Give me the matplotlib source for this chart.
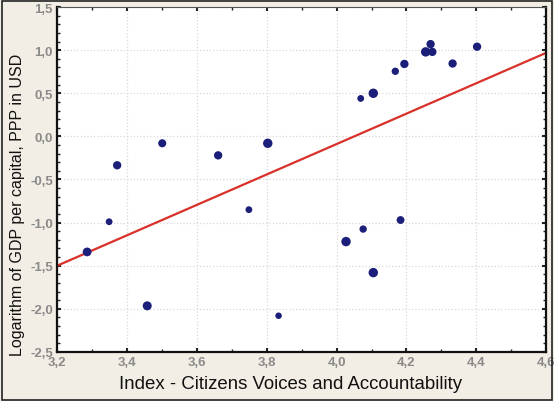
import numpy as np
import matplotlib.pyplot as plt
from matplotlib.ticker import MultipleLocator, FuncFormatter

# values
voice_index = [3.286, 3.349, 3.458, 3.372, 3.501, 3.661, 3.803, 4.069, 4.105, 4.168,
               4.194, 4.255, 4.269, 4.274, 4.332, 4.402, 3.749, 4.183, 4.076, 4.027,
               4.105, 3.834]
log_gdp = [-1.34, -0.99, -1.965, -0.335, -0.08, -0.22, -0.08, 0.44, 0.50, 0.755,
           0.84, 0.98, 1.07, 0.98, 0.845, 1.04, -0.85, -0.97, -1.075, -1.22,
           -1.58, -2.08]
point_size = [40, 24, 42, 36, 34, 36, 46, 24, 46, 28,
              36, 46, 36, 36, 36, 36, 24, 32, 28, 46,
              46, 22]
# fitted line as shown: y = slope*x + intercept
fit_slope = 1.764
fit_intercept = -7.145

x_range = (3.2, 4.6)
y_range = (-2.5, 1.5)

fig = plt.figure(figsize=(5.54, 4.02), dpi=100, facecolor='#f2eee5')
fig.patches.append(plt.Rectangle((0.003, 0.003), 0.994, 0.992, transform=fig.transFigure,
                                 fill=False, edgecolor='#222222', linewidth=1.2))
ax = fig.add_axes([0.103, 0.122, 0.883, 0.858])
ax.set_facecolor('white')

line_x = np.array(x_range)
ax.plot(line_x, fit_slope * line_x + fit_intercept, color='#d9302a', linewidth=1.6, zorder=2)
ax.scatter(voice_index, log_gdp, s=point_size, color='#1c1f7a', edgecolors='none', zorder=3)

ax.set_xlim(*x_range)
ax.set_ylim(*y_range)
ax.xaxis.set_major_locator(MultipleLocator(0.2))
ax.xaxis.set_minor_locator(MultipleLocator(0.1))
ax.yaxis.set_major_locator(MultipleLocator(0.5))
ax.yaxis.set_minor_locator(MultipleLocator(0.1))
comma = FuncFormatter(lambda v, pos: f'{v:.1f}'.replace('.', ','))
ax.xaxis.set_major_formatter(comma)
ax.yaxis.set_major_formatter(comma)

ax.grid(True, which='major', color='#d8d8d8', linestyle=':', linewidth=0.9)
ax.tick_params(which='both', direction='in', top=True, right=True, color='#222222')
ax.tick_params(which='major', length=3, width=1.5, labelsize=9.5, labelcolor='#8a8a8a', pad=3)
ax.tick_params(which='minor', length=2, width=1.0)
for lab in ax.get_xticklabels() + ax.get_yticklabels():
    lab.set_fontweight('bold')
    lab.set_family('Liberation Sans')

for side in ['left', 'bottom', 'right']:
    ax.spines[side].set_linewidth(1.6)
    ax.spines[side].set_color('#111111')
ax.spines['top'].set_linewidth(0.8)
ax.spines['top'].set_color('#555555')

ax.set_xlabel('Index - Citizens Voices and Accountability', fontsize=13.4,
              family='Liberation Sans', color='#111111')
ax.set_ylabel('Logarithm of GDP per capital, PPP in USD', fontsize=11.5,
              family='Liberation Sans', color='#111111')
ax.xaxis.set_label_coords(0.4765, -0.066)
ax.yaxis.set_label_coords(-0.066, 0.429)

plt.savefig('out.png', dpi=100, facecolor=fig.get_facecolor())
